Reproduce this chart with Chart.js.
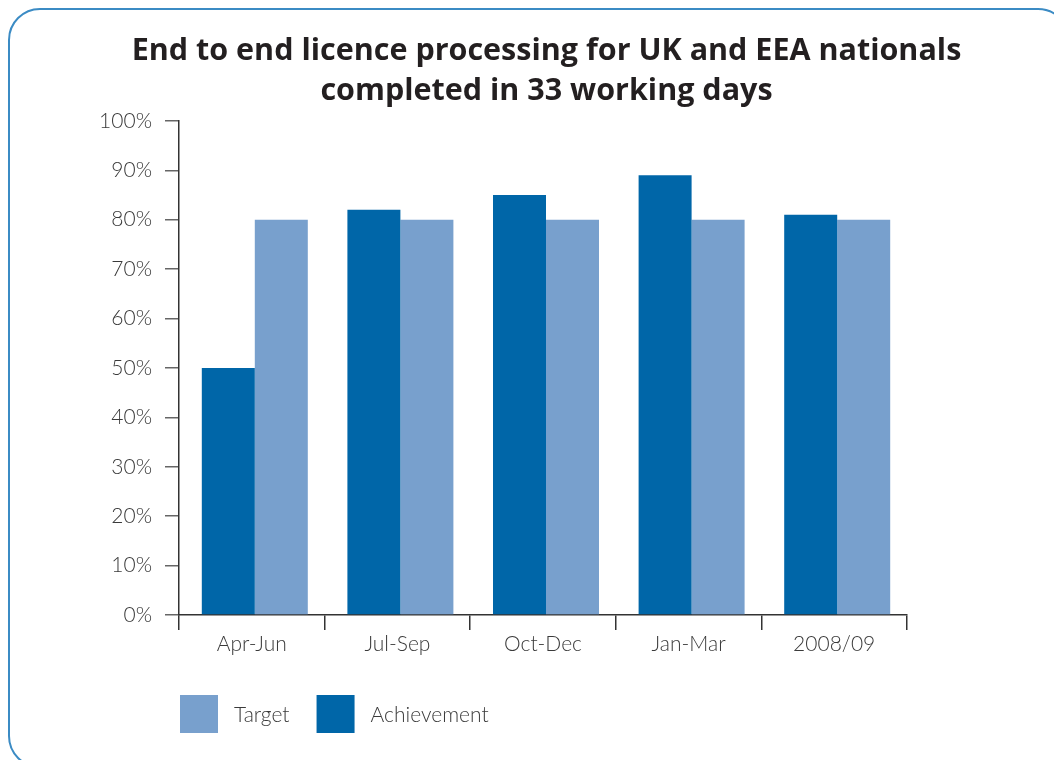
<!DOCTYPE html>
<html>
<head>
<meta charset="utf-8">
<script src="https://cdn.jsdelivr.net/npm/chart.js@4/dist/chart.umd.min.js"></script>
<style>
  html, body { margin: 0; padding: 0; background: #fff; overflow: hidden; }
  #wrap { position: relative; width: 1054px; height: 760px; overflow: hidden; }
  #frame { position: absolute; left: 8px; top: 8px; width: 1062px; height: 760px;
           border: 2px solid #3b8bc4; border-radius: 32px; box-sizing: border-box; }
  canvas { position: absolute; left: 0; top: 0; }
</style>
</head>
<body>
<div id="wrap">
  <div id="frame"></div>
  <canvas id="c" width="1054" height="760"></canvas>
</div>
<script>
const categories = ['Apr-Jun', 'Jul-Sep', 'Oct-Dec', 'Jan-Mar', '2008/09'];
const achievement = [50, 82, 85, 89, 81];
const target = [80, 80, 80, 80, 80];
const titleLines = ['End to end licence processing for UK and EEA nationals', 'completed in 33 working days'];
const seriesNames = ['Achievement', 'Target'];

const DARK = '#0066a8';
const LIGHT = '#78a0cd';
const TEXT = '#3a3a3a';
const LABEL_FONT = { family: 'Lato', size: 21, weight: '300' };

const shiftBars = {
  id: 'shiftBars',
  beforeDatasetsDraw(chart) { chart.ctx.save(); chart.ctx.translate(3, 0); },
  afterDatasetsDraw(chart) { chart.ctx.restore(); }
};

const customLegend = {
  id: 'customLegend',
  afterDraw(chart) {
    const ctx = chart.ctx;
    const ds = chart.data.datasets.slice().reverse();
    let x = chart.chartArea.left + 1;
    const y = 695, box = 38;
    ctx.save();
    ctx.font = `300 ${LABEL_FONT.size}px Lato`;
    ctx.textBaseline = 'middle';
    ctx.textAlign = 'left';
    ds.forEach(d => {
      ctx.fillStyle = d.backgroundColor;
      ctx.fillRect(x, y, box, box);
      x += box + 16;
      ctx.fillStyle = TEXT;
      ctx.fillText(d.label, x, y + box / 2 + 1);
      x += ctx.measureText(d.label).width + 27;
    });
    ctx.restore();
  }
};

new Chart(document.getElementById('c'), {
  type: 'bar',
  data: {
    labels: categories,
    datasets: [
      { label: seriesNames[0], data: achievement, backgroundColor: DARK },
      { label: seriesNames[1], data: target, backgroundColor: LIGHT }
    ]
  },
  options: {
    responsive: false,
    animation: false,
    events: [],
    layout: { padding: { left: 90, right: 51, top: 0, bottom: 0 } },
    datasets: { bar: { categoryPercentage: 0.728, barPercentage: 1.0 } },
    plugins: {
      legend: { display: false },
      tooltip: { enabled: false },
      title: {
        display: true,
        fullSize: true,
        text: titleLines,
        color: '#231f20',
        font: { family: 'Open Sans', size: 30.5, weight: 'bold', lineHeight: 1.31 },
        padding: { top: 31, bottom: 10 }
      }
    },
    scales: {
      x: {
        afterFit(scale) { scale.height = 145; },
        grid: { drawOnChartArea: false, drawTicks: true, tickLength: 15, color: '#333', lineWidth: 1.5, offset: true },
        border: { color: '#333', width: 1.5 },
        ticks: { color: TEXT, font: LABEL_FONT, padding: 2 }
      },
      y: {
        min: 0, max: 100,
        afterFit(scale) { scale.width = 89; },
        grid: { drawOnChartArea: false, drawTicks: true, tickLength: 14, color: '#666', lineWidth: 1.5 },
        border: { color: '#333', width: 1.5 },
        ticks: { stepSize: 10, color: TEXT, font: LABEL_FONT, padding: 13, callback: v => v + '%' }
      },
      yr: {
        position: 'right',
        min: 0, max: 100,
        afterFit(scale) { scale.width = 96; },
        grid: { display: false },
        border: { display: false },
        ticks: { display: false }
      }
    }
  },
  plugins: [shiftBars, customLegend]
});
</script>
</body>
</html>
